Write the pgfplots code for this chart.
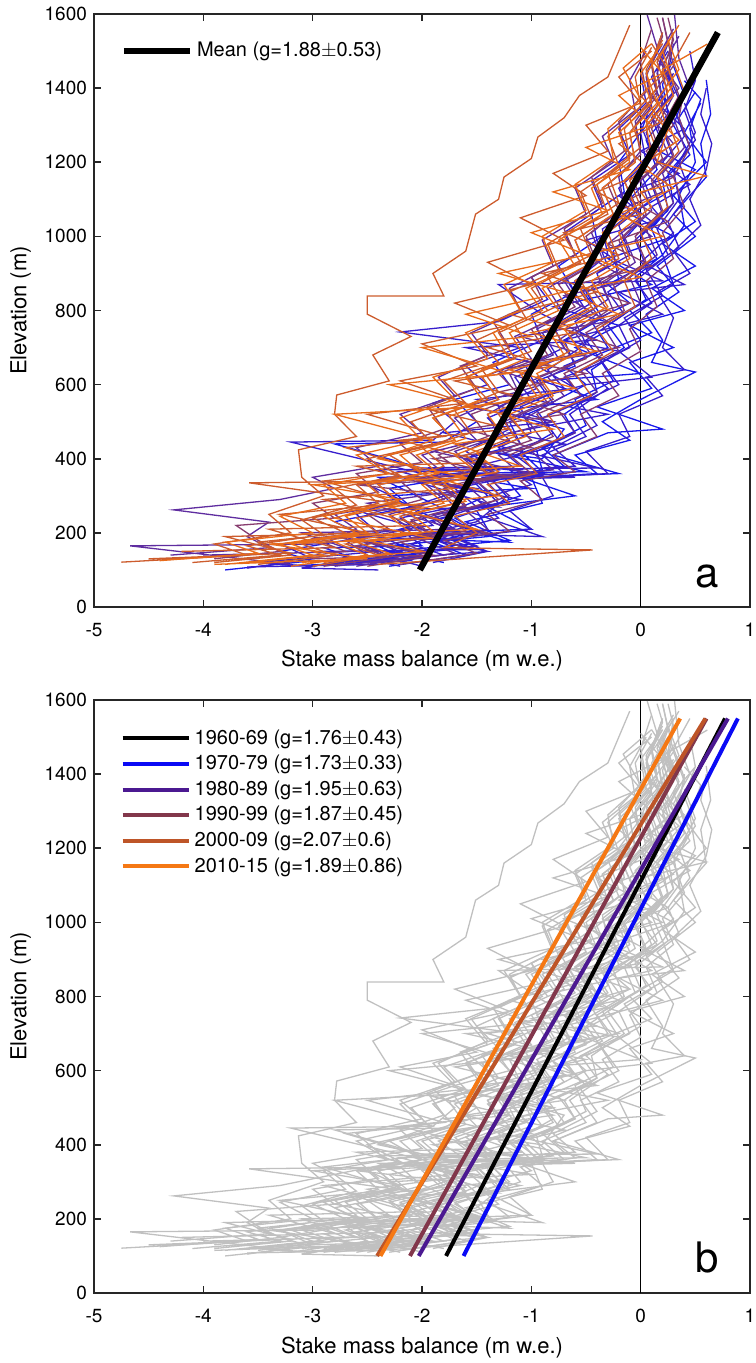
\documentclass[border=0pt]{standalone}
\usepackage{fontspec}
\setmainfont{TeX Gyre Heros}
\usepackage{pgfplots}
\usepackage{pgfplotstable}
\pgfplotsset{compat=1.18}

% profile colours by decade (panel a)
\definecolor{c60}{RGB}{25,25,235}
\definecolor{c70}{RGB}{55,30,205}
\definecolor{c80}{RGB}{95,45,160}
\definecolor{c90}{RGB}{135,60,110}
\definecolor{c00}{RGB}{205,92,45}
\definecolor{c10}{RGB}{232,108,28}
% decadal fit colours (panel b)
\definecolor{f70}{RGB}{10,10,245}
\definecolor{f80}{RGB}{75,25,145}
\definecolor{f90}{RGB}{130,55,75}
\definecolor{f00}{RGB}{190,85,40}
\definecolor{f10}{RGB}{245,120,20}
\definecolor{axgray}{RGB}{38,38,38}
\definecolor{profgray}{RGB}{192,192,192}

% stake profiles: balance (m w.e.), elevation (m); nan rows separate years
\pgfplotstableread{
b z
-2.3 110
-1.6 140
-1.9 175
-1.4 210
-1.5 260
-1.1 300
-1.25 350
-0.9 370
-0.95 420
-0.6 470
-0.7 520
-0.4 580
-0.45 640
-0.15 700
-0.3 760
0.05 830
-0.05 890
0.2 950
0.1 1020
0.3 1090
0.25 1170
0.45 1240
0.35 1320
0.5 1390
nan nan
-1.8 120
-2.3 150
-1.2 180
-1.6 230
-0.9 280
-1.0 350
-0.4 360
-0.6 410
-0.1 450
-0.35 500
0.0 560
0.5 634
0.1 660
0.2 720
0.05 790
0.35 850
0.15 920
0.5 1000
0.3 1060
0.6 1160
0.55 1250
0.64 1330
0.6 1422
nan nan
-3.1 105
-2.6 130
-2.9 160
-2.0 165
-2.2 210
-1.7 250
-2.4 350
-1.3 355
-1.6 400
-1.1 440
-1.2 500
-0.8 550
-0.95 610
-0.6 650
-0.7 720
-0.35 780
-0.5 850
-0.2 880
-0.25 960
0.0 1040
-0.1 1100
0.15 1180
0.05 1260
0.25 1330
0.2 1410
0.3 1480
nan nan
-3.8 100
-3.0 125
-3.3 150
-2.5 190
-2.8 230
-2.1 270
-2.3 320
-1.7 350
-2.8 440
-1.8 445
-1.5 500
-1.7 560
-1.2 600
-1.35 660
-0.9 720
-1.0 790
-0.6 850
-0.75 920
-0.4 990
-0.45 1060
-0.15 1120
-0.2 1200
0.0 1280
0.1 1360
0.05 1440
0.2 1520
nan nan
-2.7 115
-2.0 145
-2.3 180
-1.5 200
-1.8 250
-1.4 300
-1.6 360
-0.9 365
-1.1 420
-0.8 470
-0.95 530
-0.5 600
-0.7 650
-0.3 700
-0.45 770
-0.1 820
-0.3 870
0.15 940
0.0 1000
0.25 1070
0.2 1150
0.45 1220
0.3 1300
0.4 1380
0.3 1460
nan nan
-2.0 130
-2.5 160
-1.4 190
-1.7 240
-1.2 290
-1.35 340
-0.7 380
-0.9 430
-0.5 490
-0.6 560
-0.25 610
-0.4 680
0.1 740
-0.1 800
0.3 870
0.2 950
0.4 1030
0.35 1110
0.5 1200
0.45 1290
0.55 1370
0.4 1420
nan nan
-3.3 110
-2.1 125
-2.6 190
-1.2 175
-1.9 240
-2.3 300
-1.0 320
-1.8 360
-0.5 365
-1.4 420
-0.9 400
-0.7 480
-1.3 530
-0.4 560
-0.9 610
0.0 630
-0.6 700
-0.2 760
-0.8 810
0.1 870
-0.3 940
0.3 1000
-0.1 1060
0.2 1110
0.5 1180
0.1 1240
0.3 1300
0.2 1380
nan nan
-2.5 130
-1.6 160
-2.0 200
-1.0 210
-1.4 270
-0.6 300
-1.1 350
-0.2 360
-0.8 410
-0.3 470
0.2 480
-0.4 540
0.1 590
-0.1 660
0.3 700
-0.1 760
0.4 800
0.1 860
0.5 920
0.2 980
0.5 1040
0.3 1110
0.6 1200
0.4 1280
0.55 1360
}\tabA

\pgfplotstableread{
b z
-2.2 110
-2.6 135
-1.7 160
-2.0 195
-1.5 230
-1.25 290
-1.45 350
-0.7 360
-0.9 410
-0.5 460
-0.65 520
-0.3 590
-0.5 640
-0.1 700
-0.2 760
0.1 820
-0.05 880
0.25 950
0.15 1020
0.35 1100
0.3 1180
0.5 1260
0.4 1340
0.5 1420
0.45 1500
nan nan
-3.0 110
-3.5 120
-2.4 150
-2.7 190
-1.9 220
-2.1 270
-1.6 320
-2.2 365
-1.3 370
-1.6 420
-1.2 480
-1.3 540
-0.95 590
-1.05 650
-0.7 700
-0.8 760
-0.45 820
-0.6 880
-0.3 950
-0.35 1020
-0.05 1080
-0.15 1150
0.1 1230
0.0 1300
0.2 1370
0.15 1450
0.25 1530
nan nan
-1.9 120
-1.4 150
-1.7 185
-1.0 210
-1.2 260
-0.8 300
-0.9 350
-0.3 360
-0.5 420
-0.1 460
-0.2 520
0.2 570
0.05 620
0.4 640
0.2 700
0.3 780
0.15 850
0.45 900
0.3 960
0.55 1030
0.45 1100
0.6 1180
0.65 1250
0.55 1330
0.6 1400
nan nan
-3.6 105
-3.0 130
-3.3 170
-2.4 200
-2.6 250
-2.2 290
-2.5 330
-2.0 360
-3.2 445
-1.9 450
-1.7 500
-1.9 550
-1.4 600
-1.6 650
-1.1 700
-2.2 742
-1.3 770
-0.85 830
-1.0 890
-0.6 950
-0.7 1010
-0.35 1080
-0.45 1150
-0.1 1220
-0.2 1290
0.05 1360
0.0 1440
nan nan
-2.4 100
-3.1 105
-2.2 150
-2.5 180
-1.6 185
-1.9 230
-1.5 270
-1.7 320
-1.2 350
-2.0 375
-1.1 380
-1.3 430
-1.0 470
-1.1 540
-0.7 590
-0.85 640
-0.5 710
-0.6 770
-0.3 830
-0.4 900
-0.1 950
-0.2 1030
0.1 1100
0.0 1170
0.2 1250
0.1 1320
0.3 1390
0.2 1470
nan nan
-2.5 120
-1.8 140
-2.1 170
-1.7 210
-1.9 250
-1.3 280
-1.5 340
-0.9 355
-1.15 410
-0.75 450
-0.9 510
-0.5 560
-0.7 620
-0.35 660
-0.5 720
-0.15 790
-0.3 850
0.05 920
-0.05 990
0.2 1060
0.1 1140
0.3 1210
0.2 1290
0.35 1370
0.25 1440
0.3 1520
nan nan
-2.0 110
-2.4 140
-1.5 165
-1.8 200
-1.3 240
-1.5 290
-1.0 330
-1.2 370
-0.6 380
-0.8 430
-0.4 490
-0.55 550
-0.2 600
-0.35 660
0.0 720
-0.15 780
0.2 840
0.05 910
0.35 970
0.25 1040
0.45 1120
0.35 1200
0.5 1280
0.4 1360
nan nan
-2.9 115
-2.3 135
-2.6 165
-2.0 200
-2.2 240
-1.7 270
-1.9 330
-1.4 360
-1.6 400
-1.2 450
-1.4 510
-1.0 560
-1.15 620
-0.75 670
-0.9 740
-0.5 800
-0.65 870
-0.3 920
-0.4 990
-0.1 1060
-0.2 1130
0.05 1200
0.0 1280
0.2 1350
0.1 1430
0.25 1500
nan nan
-2.7 120
-1.4 150
-2.2 200
-0.9 190
-1.6 260
-1.1 290
-2.0 340
-0.6 350
-1.5 380
-0.7 440
-1.2 470
-0.3 520
-1.0 560
-0.5 600
0.1 620
-0.2 690
-0.7 720
0.2 790
-0.2 850
0.4 870
0.0 930
0.3 1010
0.1 1080
0.45 1140
0.2 1200
0.4 1270
0.3 1350
0.5 1420
nan nan
-3.6 108
-2.4 115
-2.9 150
-1.5 155
-2.0 210
-2.6 260
-1.3 270
-2.4 370
-0.4 375
-1.1 420
-1.8 470
-0.8 500
-1.5 560
-0.6 590
-1.0 660
-1.6 700
-0.4 720
-0.9 790
-1.3 870
0.2 880
-0.2 930
-0.5 990
0.1 1040
-0.2 1110
0.35 1170
0.0 1230
0.4 1290
0.15 1360
0.3 1440
}\tabB

\pgfplotstableread{
b z
-2.8 110
-2.2 130
-2.5 160
-1.9 190
-2.1 230
-1.6 270
-1.8 320
-1.3 350
-1.5 400
-1.1 440
-1.25 500
-0.85 550
-1.0 610
-0.6 660
-0.75 720
-0.4 790
-0.55 850
-0.2 910
-0.3 980
0.0 1050
-0.1 1120
0.15 1200
0.05 1280
0.2 1360
0.15 1440
0.25 1520
0.2 1590
nan nan
-4.3 140
-3.4 160
-3.6 190
-3.4 229
-4.27 262
-3.3 290
-2.8 320
-3.0 350
-2.4 380
-2.6 430
-2.0 470
-2.2 520
-1.7 570
-1.85 620
-1.4 680
-1.55 740
-1.1 800
-1.2 860
-0.8 920
-0.9 990
-0.5 1060
-0.6 1130
-0.25 1200
-0.35 1270
-0.05 1340
-0.1 1420
0.05 1500
nan nan
-2.3 120
-1.7 145
-2.0 180
-1.4 210
-1.6 260
-1.2 300
-1.4 350
-0.8 370
-1.0 420
-0.6 470
-0.75 530
-0.4 580
-0.55 640
-0.2 690
-0.35 760
0.0 820
-0.1 890
0.15 950
0.05 1020
0.3 1090
0.2 1170
0.4 1240
0.3 1320
0.45 1400
0.35 1480
0.31 1597
nan nan
-3.2 115
-4.67 165
-2.9 170
-2.6 210
-2.8 250
-2.2 280
-2.4 330
-1.8 360
-2.0 410
-1.5 450
-1.7 510
-1.3 560
-1.45 620
-1.0 670
-1.15 730
-0.7 790
-0.85 860
-0.5 920
-0.6 990
-0.25 1060
-0.35 1130
-0.05 1200
-0.1 1280
0.1 1350
0.05 1430
0.15 1510
0.06 1597
nan nan
-2.6 110
-2.0 140
-2.3 170
-1.7 200
-1.9 240
-1.4 280
-1.6 330
-1.1 360
-1.3 410
-0.9 450
-1.05 510
-0.7 570
-0.85 620
-0.45 680
-0.6 740
-0.25 800
-0.35 870
-0.05 930
-0.15 1000
0.1 1070
0.0 1150
0.25 1220
0.15 1300
0.3 1380
0.2 1460
0.35 1540
nan nan
-3.0 110
-2.5 140
-2.7 180
-2.1 210
-2.3 250
-1.8 290
-2.0 340
-1.5 370
-1.7 420
-1.3 460
-1.4 520
-1.1 570
-1.2 630
-0.8 680
-0.95 750
-0.55 810
-0.7 880
-0.35 940
-0.45 1010
-0.15 1080
-0.2 1160
0.0 1230
-0.05 1310
0.15 1390
0.1 1470
0.2 1550
nan nan
-4.0 140
-2.6 150
-3.1 200
-1.7 210
-2.5 280
-1.5 320
-2.2 350
-1.0 360
-1.9 420
-1.3 460
-0.8 500
-1.6 540
-0.9 600
-1.3 640
-0.5 680
-1.1 730
-0.3 770
-0.7 840
-0.1 880
-0.5 950
0.1 1000
-0.2 1070
0.2 1120
0.0 1190
0.3 1250
0.1 1320
0.35 1400
0.15 1480
0.3 1560
}\tabC

\pgfplotstableread{
b z
-3.4 125
-2.7 150
-3.0 185
-2.3 210
-2.5 250
-2.0 290
-2.2 340
-1.6 360
-1.85 410
-1.4 460
-1.55 520
-1.1 570
-1.3 630
-0.85 680
-1.0 750
-0.6 810
-0.75 870
-0.4 930
-0.5 1000
-0.2 1070
-0.3 1140
0.0 1220
-0.05 1300
0.15 1380
0.1 1460
0.2 1540
0.15 1590
nan nan
-2.5 110
-1.9 140
-2.2 175
-1.6 205
-1.8 250
-1.3 290
-1.5 340
-1.0 360
-1.2 410
-0.8 460
-0.95 520
-0.55 570
-0.7 630
-0.35 680
-0.5 740
-0.15 800
-0.25 870
0.05 930
-0.05 1000
0.2 1070
0.1 1150
0.3 1220
0.2 1300
0.35 1380
0.25 1460
0.3 1550
nan nan
-3.9 130
-3.3 150
-3.5 180
-3.7 220
-2.8 240
-3.0 280
-2.4 310
-2.6 360
-2.0 390
-2.2 440
-1.8 480
-1.95 540
-1.5 590
-1.65 650
-1.2 700
-1.35 770
-0.9 830
-1.0 890
-0.6 950
-0.7 1020
-0.35 1090
-0.45 1160
-0.15 1230
-0.2 1310
0.05 1390
0.0 1470
0.1 1560
nan nan
-2.2 115
-1.5 145
-1.8 180
-1.2 205
-1.4 250
-0.9 290
-1.1 340
-0.6 365
-0.8 410
-0.4 460
-0.55 520
-0.2 570
-0.35 630
0.0 690
-0.1 750
0.15 810
0.05 880
0.3 940
0.2 1010
0.4 1080
0.3 1160
0.45 1240
0.35 1320
0.4 1400
nan nan
-2.9 110
-2.3 135
-2.6 165
-1.9 195
-2.1 235
-1.6 275
-1.8 325
-1.3 355
-1.5 400
-1.0 450
-1.2 510
-0.8 560
-0.95 620
-0.5 670
-0.65 730
-0.3 800
-0.45 860
-0.1 920
-0.2 990
0.05 1060
-0.05 1140
0.2 1210
0.1 1290
0.25 1370
0.2 1450
0.3 1530
0.25 1590
nan nan
-3.0 130
-1.9 140
-2.8 190
-1.4 200
-2.2 260
-1.7 300
-2.6 330
-1.2 350
-1.9 400
-1.0 430
-1.6 480
-0.7 520
-1.3 580
-0.5 630
-1.0 660
-0.2 700
-0.8 760
-0.1 820
-0.6 870
0.1 920
-0.3 980
0.25 1040
-0.1 1100
0.3 1160
0.05 1230
0.3 1300
0.1 1380
0.3 1460
0.2 1590
}\tabD

\pgfplotstableread{
b z
-3.9 120
-3.2 140
-3.5 175
-2.7 200
-3.0 240
-2.4 280
-2.6 330
-2.0 360
-2.3 410
-1.7 450
-1.9 510
-1.4 560
-1.6 620
-1.15 670
-1.3 740
-0.85 800
-1.0 860
-0.55 930
-0.7 1000
-0.3 1060
-0.4 1140
-0.1 1210
-0.15 1290
0.1 1370
0.05 1450
0.2 1530
nan nan
-3.0 110
-2.4 140
-2.7 170
-2.0 200
-2.2 245
-1.7 280
-1.9 330
-1.4 360
-1.6 410
-1.15 460
-1.3 520
-0.9 570
-1.05 630
-0.65 690
-0.8 750
-0.4 810
-0.55 880
-0.2 940
-0.3 1010
0.0 1080
-0.1 1150
0.15 1230
0.05 1310
0.25 1390
0.15 1470
0.3 1550
nan nan
-4.75 121
-3.6 140
-3.9 170
-3.2 200
-3.4 250
-2.9 300
-3.1 350
-3.13 424
-2.6 460
-2.8 520
-2.78 572
-2.3 610
-2.45 680
-2.1 730
-2.5 790
-2.5 839
-1.8 839
-1.9 900
-1.6 960
-1.51 1060
-1.3 1100
-1.25 1160
-1.0 1210
-0.94 1268
-0.7 1320
-0.56 1380
-0.3 1430
-0.2 1500
-0.1 1570
nan nan
-3.5 115
-2.8 140
-3.1 170
-2.4 200
-2.6 240
-2.0 270
-3.58 335
-2.2 340
-1.8 380
-2.0 430
-1.55 470
-1.7 530
-1.3 580
-1.45 640
-1.0 690
-1.15 760
-0.7 820
-0.85 890
-0.45 950
-0.55 1020
-0.2 1090
-0.3 1170
0.0 1240
-0.1 1320
0.15 1400
0.1 1470
0.2 1550
nan nan
-2.4 115
-0.44 154
-1.8 160
-1.5 200
-1.7 245
-1.2 280
-1.4 330
-0.95 360
-1.1 410
-0.7 460
-0.85 520
-0.45 570
-0.6 630
-0.25 690
-0.4 750
-0.05 810
-0.15 880
0.1 940
0.0 1010
0.25 1080
0.15 1160
0.35 1230
0.25 1310
0.4 1390
0.3 1470
0.45 1550
nan nan
-4.1 120
-3.3 140
-3.6 165
-2.9 195
-3.1 235
-2.6 275
-2.8 320
-2.2 355
-2.5 400
-1.9 440
-2.1 500
-1.6 550
-1.8 610
-1.3 660
-1.5 720
-1.05 780
-1.2 850
-0.75 910
-0.85 980
-0.45 1050
-0.55 1120
-0.2 1190
-0.3 1270
0.0 1350
-0.05 1430
0.1 1510
nan nan
-4.2 150
-2.8 160
-3.4 210
-2.0 220
-2.9 290
-1.7 320
-2.6 380
-1.4 390
-2.2 450
-1.2 480
-1.9 530
-1.0 560
-1.7 610
-0.8 650
-1.4 700
-0.6 740
-1.2 790
-0.4 850
-0.9 900
-0.2 950
-0.7 1010
0.0 1060
-0.4 1120
0.1 1180
-0.2 1250
0.2 1310
0.0 1380
0.25 1450
0.1 1520
nan nan
-4.5 130
-3.2 145
-3.8 190
-2.5 200
-3.3 250
-2.2 280
-2.9 340
-2.0 370
-2.7 430
-1.8 460
-2.5 520
-1.6 550
-2.2 610
-1.5 650
-2.0 710
-1.2 760
-1.7 820
-1.0 870
-1.4 930
-0.7 990
-1.1 1050
-0.5 1110
-0.8 1170
-0.3 1230
-0.5 1300
0.0 1360
-0.2 1430
0.1 1500
}\tabE

\pgfplotstableread{
b z
-4.4 125
-3.5 145
-3.8 175
-3.0 200
-3.3 245
-2.7 280
-2.9 330
-2.3 360
-2.6 410
-2.0 450
-2.2 510
-1.7 560
-1.9 620
-1.4 670
-1.6 740
-1.1 800
-1.25 870
-0.8 930
-0.9 1000
-0.5 1070
-0.6 1140
-0.25 1210
-0.3 1290
0.0 1370
-0.16 1454
0.1 1520
nan nan
-3.2 110
-2.5 140
-2.8 175
-2.1 200
-2.3 245
-1.8 280
-2.0 330
-1.5 365
-1.7 410
-1.25 460
-1.4 520
-0.95 570
-1.1 630
-0.7 680
-0.85 750
-0.45 810
-0.6 880
-0.25 940
-0.35 1010
-0.05 1080
-0.15 1150
0.1 1220
0.05 1300
0.3 1380
0.2 1450
0.61 1519
nan nan
-3.8 115
-3.0 140
-3.3 170
-2.6 200
-2.9 245
-2.3 280
-2.5 330
-2.0 360
-2.2 410
-1.7 450
-1.9 510
-1.45 560
-1.6 620
-1.2 670
-1.35 740
-0.9 800
-1.05 860
-0.6 920
-0.75 990
-0.35 1060
-0.45 1130
-0.1 1200
-0.2 1280
0.1 1360
0.0 1440
0.2 1520
nan nan
-2.9 120
-2.3 145
-2.6 175
-1.9 205
-2.1 250
-1.6 285
-1.8 335
-1.3 365
-1.5 415
-1.05 460
-1.2 520
-0.8 570
-0.95 630
-0.55 690
-0.7 750
-0.3 810
-0.45 880
-0.1 940
-0.2 1010
0.1 1080
0.0 1120
0.6 1163
0.15 1200
0.25 1290
0.15 1370
0.35 1450
0.25 1530
nan nan
-3.6 120
-2.9 140
-3.2 170
-2.5 200
-2.7 245
-2.2 280
-2.4 330
-1.85 360
-2.05 410
-1.6 455
-1.75 515
-1.3 560
-1.45 620
-1.05 670
-1.2 740
-0.75 800
-0.9 860
-0.5 920
-0.6 990
-0.25 1060
-0.35 1130
-0.05 1200
-0.1 1280
0.15 1360
0.05 1440
0.25 1520
nan nan
-3.9 115
-2.5 130
-3.4 170
-1.9 185
-2.8 240
-2.2 290
-3.0 330
-1.6 350
-2.4 400
-1.9 450
-2.8 520
-1.5 540
-2.3 600
-1.2 630
-2.0 700
-1.0 730
-1.6 790
-0.7 850
-1.3 900
-0.5 950
-1.0 1010
-0.3 1070
-0.8 1120
-0.1 1180
-0.5 1240
0.1 1300
-0.2 1380
0.2 1440
0.0 1510
nan nan
-3.1 120
-2.0 150
-2.7 190
-1.5 210
-2.3 270
-1.3 300
-2.0 360
-1.1 380
-1.7 440
-0.8 480
-1.5 540
-0.6 590
-1.2 640
-0.4 690
-1.0 740
-0.2 790
-0.7 850
0.0 890
-0.5 950
0.2 1000
-0.2 1060
0.3 1130
0.0 1190
0.35 1260
0.1 1330
0.3 1410
0.2 1500
0.35 1570
}\tabF

\pgfplotsset{
  panel/.style={
    scale only axis, width=328pt, height=296.5pt,
    xmin=-5, xmax=1, ymin=0, ymax=1600,
    xtick={-5,...,1}, ytick={0,200,...,1600},
    tick align=inside, major tick length=3.5pt,
    axis line style={draw=axgray, line width=0.8pt},
    every tick/.style={draw=axgray, line width=0.8pt},
    ticklabel style={font=\fontsize{9.5}{11}\selectfont},
    xticklabel style={yshift=-4.5pt},
    /pgf/number format/assume math mode=true,
    /pgf/number format/1000 sep={},
    xlabel={Stake mass balance (m w.e.)},
    ylabel={Elevation (m)},
    label style={font=\fontsize{11}{13}\selectfont},
    unbounded coords=jump,
    legend cell align=left,
    legend style={draw=none, fill=none, inner sep=0pt,
      font=\fontsize{10}{12}\selectfont},
    legend image code/.code={\draw[##1] (0pt,0pt) -- (33pt,0pt);},
  },
  prof/.style={line width=0.65pt, forget plot},
}

\begin{document}
\begin{tikzpicture}
\path[use as bounding box] (0,0) rectangle (377.5pt,-681.5pt);

% (a) profiles coloured by year with the mean gradient
\begin{axis}[panel, at={(47pt,-7pt)}, anchor=north west,
  legend style={at={(axis cs:-4.76,1500)}, anchor=west}]
\addplot[black, line width=0.5pt, forget plot] coordinates {(0,0) (0,1600)};
\addplot[prof, c60] table[x=b, y=z] {\tabA};
\addplot[prof, c70] table[x=b, y=z] {\tabB};
\addplot[prof, c80] table[x=b, y=z] {\tabC};
\addplot[prof, c90] table[x=b, y=z] {\tabD};
\addplot[prof, c00] table[x=b, y=z] {\tabE};
\addplot[prof, c10] table[x=b, y=z] {\tabF};
\addplot[black, line width=3.2pt] coordinates {(-2.02,100) (0.706,1550)};
\addlegendentry{Mean (g=1.88$\pm$0.53)}
\node[font=\fontsize{21}{24}\selectfont, anchor=base] at (axis cs:0.61,52) {a};
\end{axis}

% (b) all profiles in grey with decadal gradients
\begin{axis}[panel, at={(47pt,-350pt)}, anchor=north west,
  legend style={at={(axis cs:-4.76,1532)}, anchor=north west}]
\addplot[black, line width=0.5pt, forget plot] coordinates {(0,0) (0,1600)};
\addplot[prof, profgray] table[x=b, y=z] {\tabA};
\addplot[prof, profgray] table[x=b, y=z] {\tabB};
\addplot[prof, profgray] table[x=b, y=z] {\tabC};
\addplot[prof, profgray] table[x=b, y=z] {\tabD};
\addplot[prof, profgray] table[x=b, y=z] {\tabE};
\addplot[prof, profgray] table[x=b, y=z] {\tabF};
\addplot[black, line width=2pt] coordinates {(-1.78,100) (0.772,1550)};
\addlegendentry{1960-69 (g=1.76$\pm$0.43)}
\addplot[f70, line width=2pt] coordinates {(-1.62,100) (0.889,1550)};
\addlegendentry{1970-79 (g=1.73$\pm$0.33)}
\addplot[f80, line width=2pt] coordinates {(-2.03,100) (0.798,1550)};
\addlegendentry{1980-89 (g=1.95$\pm$0.63)}
\addplot[f90, line width=2pt] coordinates {(-2.11,100) (0.602,1550)};
\addlegendentry{1990-99 (g=1.87$\pm$0.45)}
\addplot[f00, line width=2pt] coordinates {(-2.41,100) (0.592,1550)};
\addlegendentry{2000-09 (g=2.07$\pm$0.6)}
\addplot[f10, line width=2pt] coordinates {(-2.38,100) (0.361,1550)};
\addlegendentry{2010-15 (g=1.89$\pm$0.86)}
\node[font=\fontsize{21}{24}\selectfont, anchor=base] at (axis cs:0.61,54) {b};
\end{axis}
\end{tikzpicture}
\end{document}
